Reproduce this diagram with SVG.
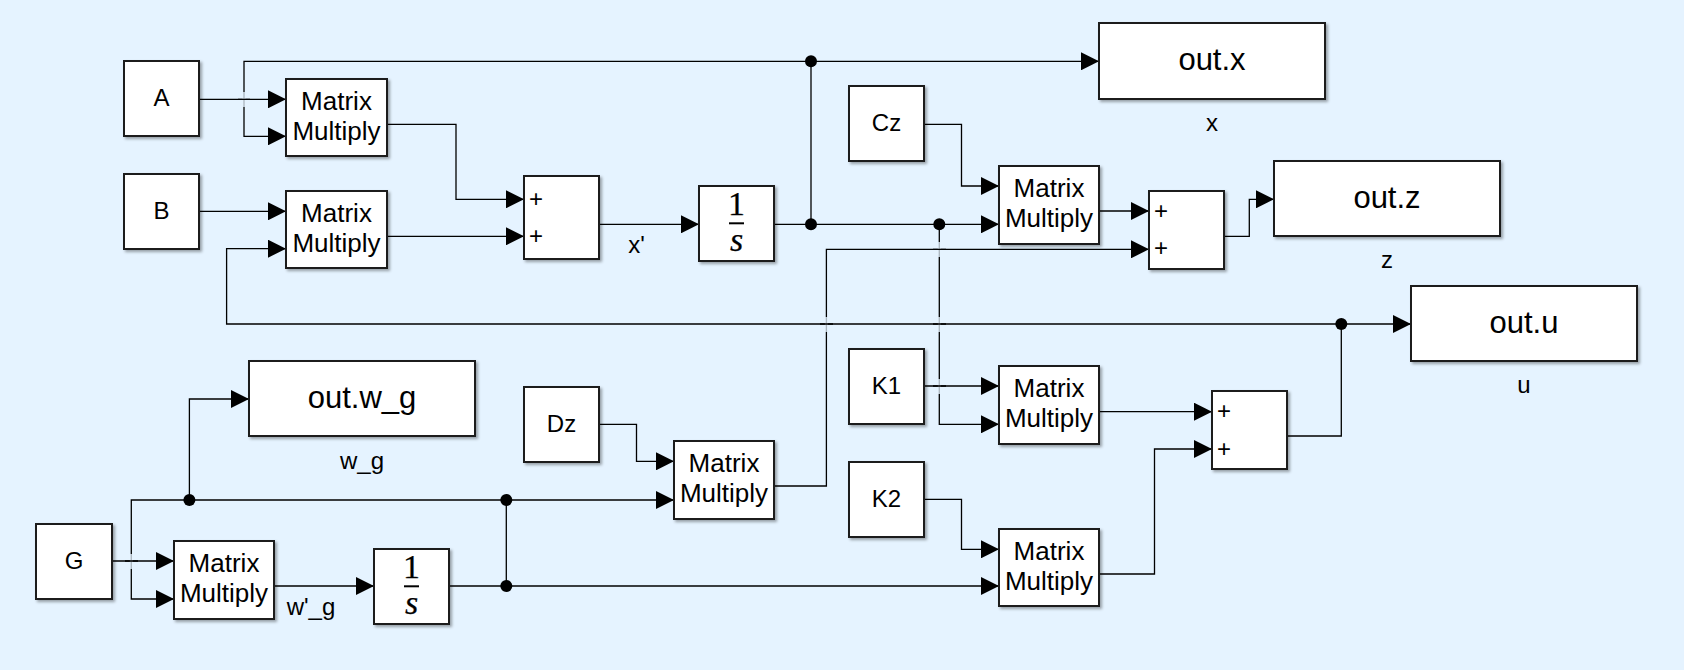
<svg xmlns="http://www.w3.org/2000/svg" width="1684" height="670" viewBox="0 0 1684 670">
<defs>
<style>
.blk{fill:#fff;stroke:#1a1a1a;stroke-width:2;filter:url(#sh)}
.ln{fill:none;stroke:#000;stroke-width:1.3}
.arr{marker-end:url(#ah)}
.t{font-family:"Liberation Sans",Arial,sans-serif;font-size:24px;fill:#000;text-anchor:middle}
.m{font-size:26px}
.tb{font-size:31px}
.ser{font-family:"Liberation Serif","Times New Roman",serif;font-size:34px;fill:#000;stroke:#000;stroke-width:0.25;text-anchor:middle}
.it{font-style:italic}
.dot{fill:#000}
.gap{stroke:#e5f3ff;stroke-width:3;opacity:0.75}
</style>
<marker id="ah" markerWidth="18" markerHeight="18" refX="18" refY="9" orient="auto" markerUnits="userSpaceOnUse"><path d="M0,0 L18,9 L0,18 z" fill="#000"/></marker>
<filter id="sh" x="-10%" y="-10%" width="130%" height="130%"><feDropShadow dx="2" dy="2" stdDeviation="1.5" flood-color="#000" flood-opacity="0.35"/></filter>
</defs>
<rect width="1684" height="670" fill="#e5f3ff"/>

<g id="connectors">
<path class="ln arr" d="M199,99.3 H286"/>
<path class="ln arr" d="M811,61.3 H244 V136.3 H286"/>
<path class="ln arr" d="M811,61.3 H1099"/>
<path class="ln arr" d="M387,124.3 H456 V199.3 H524"/>
<path class="ln arr" d="M199,211.3 H286"/>
<path class="ln arr" d="M1341.3,324 H226.6 V248.7 H286"/>
<path class="ln arr" d="M1341.3,324 H1411"/>
<path class="ln arr" d="M387,236.3 H524"/>
<path class="ln arr" d="M599,224.3 H699"/>
<path class="ln arr" d="M774,224.3 H999"/>
<path class="ln" d="M811,224.3 V61.3"/>
<path class="ln arr" d="M939.3,224.3 V424.3 H999"/>
<path class="ln arr" d="M924,124.3 H961.5 V186 H999"/>
<path class="ln arr" d="M1099,211 H1149"/>
<path class="ln arr" d="M774,486 H826.4 V249.3 H1149"/>
<path class="ln arr" d="M1224,236.3 H1249.3 V199.3 H1274"/>
<path class="ln arr" d="M924,386 H999"/>
<path class="ln arr" d="M1099,411.7 H1212"/>
<path class="ln" d="M1287,436 H1341.3 V324"/>
<path class="ln arr" d="M924,499.3 H961.5 V549.3 H999"/>
<path class="ln arr" d="M1099,574 H1154.5 V449 H1212"/>
<path class="ln arr" d="M599,424.3 H636.5 V461.3 H674"/>
<path class="ln arr" d="M112,561 H174"/>
<path class="ln arr" d="M274,586 H374"/>
<path class="ln arr" d="M449,586 H999"/>
<path class="ln arr" d="M506.3,586 V500 H674"/>
<path class="ln arr" d="M506.3,500 H131.3 V599 H174"/>
<path class="ln arr" d="M189.4,500 V399 H249"/>
<g id="crossings">
<path class="gap" d="M244,92 V107 M826.4,317 V332 M939.3,242 V257 M939.3,317 V332 M939.3,379 V394 M131.3,554 V569"/>
<path class="ln" d="M238,99.3 H250 M820,324 H833 M933,249.3 H946 M933,324 H946 M933,386 H946 M125,561 H138"/>
</g>
<circle class="dot" cx="811" cy="61.3" r="6"/>
<circle class="dot" cx="811" cy="224.3" r="6"/>
<circle class="dot" cx="939.3" cy="224.3" r="6"/>
<circle class="dot" cx="1341.3" cy="324" r="6"/>
<circle class="dot" cx="189.4" cy="500" r="6"/>
<circle class="dot" cx="506.3" cy="500" r="6"/>
<circle class="dot" cx="506.3" cy="586" r="6"/>
<text class="t" x="636.5" y="253">x'</text>
<text class="t" x="311" y="615">w'_g</text>
</g>

<g id="A"><rect class="blk" x="124" y="61" width="75" height="75"/><text class="t" x="161.5" y="106">A</text></g>
<g id="B"><rect class="blk" x="124" y="174" width="75" height="75"/><text class="t" x="161.5" y="219">B</text></g>
<g id="mm1"><rect class="blk" x="286" y="79" width="101" height="77"/><text class="t m" x="336.5" y="110">Matrix</text><text class="t m" x="336.5" y="140">Multiply</text></g>
<g id="mm2"><rect class="blk" x="286" y="191" width="101" height="77"/><text class="t m" x="336.5" y="222">Matrix</text><text class="t m" x="336.5" y="252">Multiply</text></g>
<g id="sum1"><rect class="blk" x="524" y="176" width="75" height="83"/><text class="t" x="536" y="207.3">+</text><text class="t" x="536" y="244.3">+</text></g>
<g id="int1"><rect class="blk" x="699" y="186" width="75" height="75"/><text class="ser" x="736.5" y="215">1</text><line x1="729" y1="223.3" x2="744" y2="223.3" stroke="#000" stroke-width="2"/><text class="ser it" x="736.5" y="251">s</text></g>
<g id="outx"><rect class="blk" x="1099" y="23" width="226" height="76"/><text class="t tb" x="1212" y="70">out.x</text><text class="t" x="1212" y="131">x</text></g>
<g id="Cz"><rect class="blk" x="849" y="86" width="75" height="75"/><text class="t" x="886.5" y="131">Cz</text></g>
<g id="mm3"><rect class="blk" x="999" y="166" width="100" height="78"/><text class="t m" x="1049" y="197">Matrix</text><text class="t m" x="1049" y="227">Multiply</text></g>
<g id="sum2"><rect class="blk" x="1149" y="191" width="75" height="78"/><text class="t" x="1161" y="219">+</text><text class="t" x="1161" y="256.3">+</text></g>
<g id="outz"><rect class="blk" x="1274" y="161" width="226" height="75"/><text class="t tb" x="1387" y="208">out.z</text><text class="t" x="1387" y="268">z</text></g>
<g id="outu"><rect class="blk" x="1411" y="286" width="226" height="75"/><text class="t tb" x="1524" y="333">out.u</text><text class="t" x="1524" y="393">u</text></g>
<g id="K1"><rect class="blk" x="849" y="349" width="75" height="75"/><text class="t" x="886.5" y="394">K1</text></g>
<g id="mmk1"><rect class="blk" x="999" y="366" width="100" height="78"/><text class="t m" x="1049" y="397">Matrix</text><text class="t m" x="1049" y="427">Multiply</text></g>
<g id="sum3"><rect class="blk" x="1212" y="391" width="75" height="78"/><text class="t" x="1224" y="419">+</text><text class="t" x="1224" y="457">+</text></g>
<g id="outwg"><rect class="blk" x="249" y="361" width="226" height="75"/><text class="t tb" x="362" y="408">out.w_g</text><text class="t" x="362" y="469">w_g</text></g>
<g id="Dz"><rect class="blk" x="524" y="387" width="75" height="75"/><text class="t" x="561.5" y="432">Dz</text></g>
<g id="mmdz"><rect class="blk" x="674" y="441" width="100" height="78"/><text class="t m" x="724" y="472">Matrix</text><text class="t m" x="724" y="502">Multiply</text></g>
<g id="K2"><rect class="blk" x="849" y="462" width="75" height="75"/><text class="t" x="886.5" y="507">K2</text></g>
<g id="mmk2"><rect class="blk" x="999" y="529" width="100" height="77"/><text class="t m" x="1049" y="560">Matrix</text><text class="t m" x="1049" y="590">Multiply</text></g>
<g id="G"><rect class="blk" x="36" y="524" width="76" height="75"/><text class="t" x="74" y="569">G</text></g>
<g id="mmg"><rect class="blk" x="174" y="541" width="100" height="78"/><text class="t m" x="224" y="572">Matrix</text><text class="t m" x="224" y="602">Multiply</text></g>
<g id="int2"><rect class="blk" x="374" y="549" width="75" height="75"/><text class="ser" x="411.5" y="578">1</text><line x1="404" y1="586.3" x2="419" y2="586.3" stroke="#000" stroke-width="2"/><text class="ser it" x="411.5" y="614">s</text></g>
</svg>
